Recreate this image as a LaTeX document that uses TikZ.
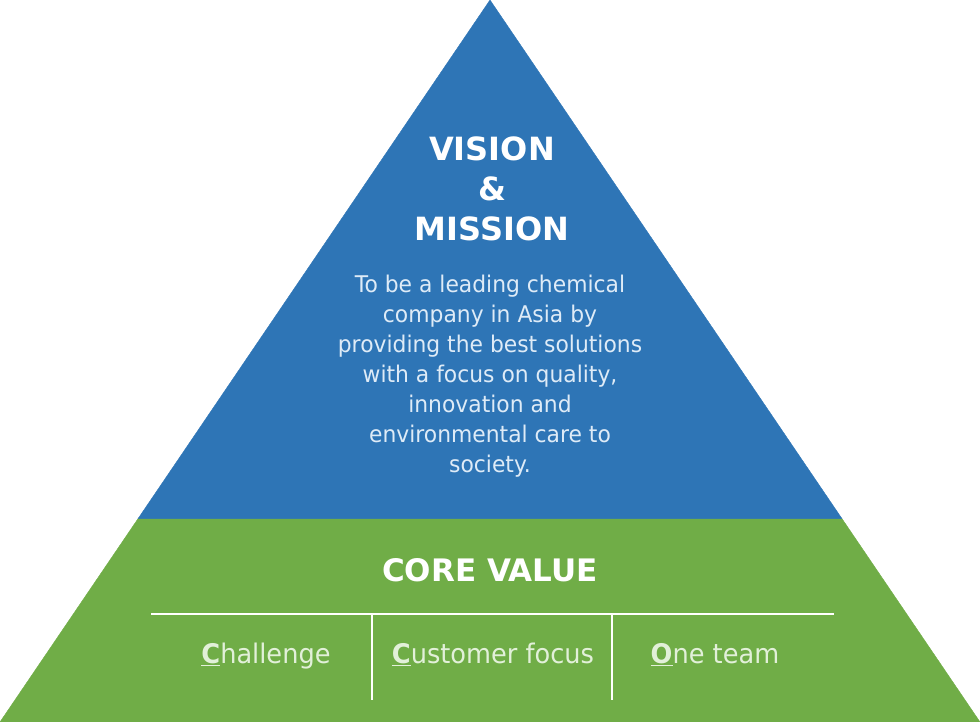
\documentclass[tikz,border=0pt]{standalone}
\usepackage{fontspec}
\setmainfont{DejaVu Sans}[FakeStretch=0.95]
\newfontfamily\headfont{DejaVu Sans}
\usetikzlibrary{calc}
\definecolor{visionblue}{HTML}{2E75B6}
\definecolor{coregreen}{HTML}{70AD47}
\definecolor{bluetext}{HTML}{DEEBF7}
\definecolor{greentext}{HTML}{E2F0D9}
\newcommand{\keyletter}[1]{\underline{\textbf{#1}}}
\tikzset{
	headline/.style={text=white, align=center, inner sep=0pt, font=\headfont\bfseries\fontsize{32}{40}\selectfont},
	missiontext/.style={text=bluetext, align=center, inner sep=0pt, font=\fontsize{23}{30}\selectfont},
	valuetext/.style={text=greentext, inner sep=0pt, anchor=base, font=\fontsize{27}{30}\selectfont},
	divider/.style={white, line width=1.5pt}
}

\begin{document}
\begin{tikzpicture}[x=1pt,y=-1pt]
	 		\useasboundingbox (0,0) rectangle (980,722);
	 		% the two layers of the pyramid
	 		\filldraw[visionblue] (490,0) -- (842.2,519) -- (137.8,519) -- cycle;
	 		\filldraw[coregreen] (137.8,519) -- (842.2,519) -- (980,722) -- (0,722) -- cycle;
	 		% top layer
	 		\node[headline] (vision) at (492,189) {VISION\\\&\\MISSION};
	 		\node[missiontext] (mission) at (490,376) {To be a leading chemical\\company in Asia by\\providing the best solutions\\with a focus on quality,\\innovation and\\environmental care to\\society.};
	 		% bottom layer
	 		\node[headline, anchor=base, font=\headfont\bfseries\fontsize{31}{36}\selectfont] (core) at (490,581) {CORE VALUE};
	 		\coordinate (rule west) at (151,614);
	 		\coordinate (rule east) at (834,614);
	 		\coordinate (split a top) at (372,614);
	 		\coordinate (split a bottom) at (372,700);
	 		\coordinate (split b top) at (612,614);
	 		\coordinate (split b bottom) at (612,700);
	 		\draw[divider] (rule west) -- (rule east);
	 		\draw[divider] (split a top) -- (split a bottom);
	 		\draw[divider] (split b top) -- (split b bottom);
	 		\node[valuetext] (challenge) at (266,663) {\keyletter{C}hallenge};
	 		\node[valuetext] (customer) at (493,663) {\keyletter{C}ustomer focus};
	 		\node[valuetext] (team) at (715,663) {\keyletter{O}ne team};
	 	\end{tikzpicture}
\end{document}
